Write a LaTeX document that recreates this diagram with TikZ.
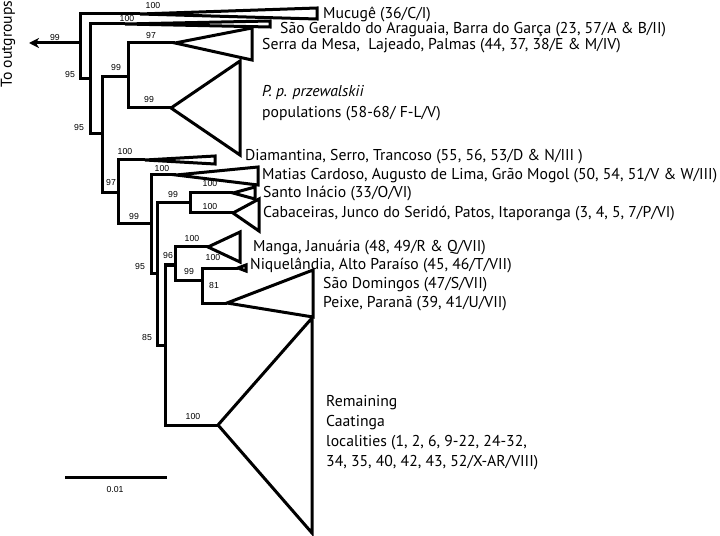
\documentclass[tikz,border=0pt]{standalone}
\usepackage{fontspec}
\setmainfont{PT Sans}
\newfontfamily\bsfont{Liberation Sans}
\usepackage{tikz}
\usetikzlibrary{arrows.meta}
\tikzset{>={Stealth[length=10bp,width=10bp,inset=3bp]}}
\tikzset{
  branch/.style={line width=3bp},
  taxon/.style={anchor=west, inner sep=0pt, font=\fontsize{15.7bp}{18bp}\selectfont},
  support/.style={inner sep=0pt, font=\bsfont\fontsize{8.7bp}{10bp}\selectfont},
}

\begin{document}
\begin{tikzpicture}[x=1bp,y=-1bp]
  \useasboundingbox (0,0) rectangle (720,536);

  % internal nodes
  \coordinate (n0) at (80,43);
  \coordinate (nA) at (90,79);
  \coordinate (nB) at (102,134);
  \coordinate (nC) at (128,77);
  \coordinate (nD) at (118,193);
  \coordinate (nE) at (151,224);
  \coordinate (nF) at (157,273);
  \coordinate (nG) at (190,203);
  \coordinate (nH) at (165,345);
  \coordinate (nI) at (175,265);
  \coordinate (nJ) at (202,280);
  \coordinate (out) at (29,43);

  % clade apices
  \coordinate (tMuc) at (140,14);
  \coordinate (tGer) at (125,24);
  \coordinate (tSer) at (175,43);
  \coordinate (tPrz) at (171,108);
  \coordinate (tDia) at (145,160);
  \coordinate (tMat) at (176,175);
  \coordinate (tSan) at (233,193);
  \coordinate (tCab) at (233,213);
  \coordinate (tMan) at (208,247);
  \coordinate (tNiq) at (238,268);
  \coordinate (tDom) at (227,303);
  \coordinate (tRem) at (218,425);

  % branches
  \draw[branch,->] (n0) -- (out);
  \draw[branch] (tMuc) -| (n0) |- (nA);
  \draw[branch] (tGer) -| (nA) |- (nB);
  \draw[branch] (nC) -| (nB) |- (nD);
  \draw[branch] (tSer) -| (nC) |- (tPrz);
  \draw[branch] (tDia) -| (nD) |- (nE);
  \draw[branch] (tMat) -| (nE) |- (nF);
  \draw[branch] (nG) -| (nF) |- (nH);
  \draw[branch] (tSan) -| (nG) |- (tCab);
  \draw[branch] (nI) -| (nH) |- (tRem);
  \draw[branch] (tMan) -| (nI) |- (nJ);
  \draw[branch] (tNiq) -| (nJ) |- (tDom);

  % collapsed clades
  \draw[branch] (tMuc) -- (317,8) -- (317,19) -- cycle;
  \draw[branch] (tGer) -- (270,21) -- (270,27) -- cycle;
  \draw[branch] (tSer) -- (252,28) -- (252,60) -- cycle;
  \draw[branch] (tPrz) -- (240,61) -- (240,155) -- cycle;
  \draw[branch] (tDia) -- (215,156) -- (215,164) -- cycle;
  \draw[branch] (tMat) -- (258,167) -- (258,185) -- cycle;
  \draw[branch] (tSan) -- (255,187) -- (255,199) -- cycle;
  \draw[branch] (tCab) -- (259,199) -- (259,231) -- cycle;
  \draw[branch] (tMan) -- (240,232) -- (240,262) -- cycle;
  \draw[branch] (tNiq) -- (246,265) -- (246,271) -- cycle;
  \draw[branch] (tDom) -- (313,270) -- (313,317) -- cycle;
  \draw[branch] (tRem) -- (312,318) -- (312,533) -- cycle;

  % support values
  \node[support] (s0) at (55,38) {99};
  \node[support] (sMuc) at (153,6) {100};
  \node[support] (sGer) at (127,19) {100};
  \node[support] (sA) at (70,75) {95};
  \node[support] (sB) at (79,128) {95};
  \node[support] (sC) at (116,68) {99};
  \node[support] (sSer) at (151,36) {97};
  \node[support] (sPrz) at (149,100) {99};
  \node[support] (sD) at (111,183) {97};
  \node[support] (sDia) at (125,152) {100};
  \node[support] (sE) at (134,217) {99};
  \node[support] (sMat) at (162,169) {100};
  \node[support] (sF) at (140,267) {95};
  \node[support] (sG) at (173,195) {99};
  \node[support] (sSan) at (210,184) {100};
  \node[support] (sCab) at (210,207) {100};
  \node[support] (sH) at (147,338) {85};
  \node[support] (sI) at (168,256) {96};
  \node[support] (sMan) at (192,239) {100};
  \node[support] (sJ) at (189,272) {99};
  \node[support] (sNiq) at (213,258) {100};
  \node[support] (sDom) at (214,286) {81};
  \node[support] (sRem) at (193,417) {100};

  % taxa
  \node[taxon] (lMuc) at (323,14) {Mucugê (36/C/I)};
  \node[taxon] (lGer) at (280,30) {São Geraldo do Araguaia, Barra do Garça (23, 57/A \& B/II)};
  \node[taxon] (lSer) at (262,46) {Serra da Mesa, \ Lajeado, Palmas (44, 37, 38/E \& M/IV)};
  \node[taxon] (lPrz) at (262,93) {\itshape P. p. przewalskii};
  \node[taxon] (lPrz2) at (262,114) {populations (58-68/ F-L/V)};
  \node[taxon] (lDia) at (245,157) {Diamantina, Serro, Trancoso (55, 56, 53/D \& N/III )};
  \node[taxon] (lMat) at (262,176) {Matias Cardoso, Augusto de Lima, Grão Mogol (50, 54, 51/V \& W/III)};
  \node[taxon] (lSan) at (263,194) {Santo Inácio (33/O/VI)};
  \node[taxon] (lCab) at (263,214) {Cabaceiras, Junco do Seridó, Patos, Itaporanga (3, 4, 5, 7/P/VI)};
  \node[taxon] (lMan) at (253,248) {Manga, Januária (48, 49/R \& Q/VII)};
  \node[taxon] (lNiq) at (250,265) {Niquelândia, Alto Paraíso (45, 46/T/VII)};
  \node[taxon] (lDom) at (323,285) {São Domingos (47/S/VII)};
  \node[taxon] (lPei) at (323,304) {Peixe, Paranã (39, 41/U/VII)};
  \node[taxon] (lRem1) at (326,403) {Remaining};
  \node[taxon] (lRem2) at (326,423) {Caatinga};
  \node[taxon] (lRem3) at (326,443) {localities (1, 2, 6, 9-22, 24-32,};
  \node[taxon] (lRem4) at (326,463) {34, 35, 40, 42, 43, 52/X-AR/VIII)};

  \node[taxon,anchor=center,rotate=90] (lOut) at (8,44) {To outgroups};

  % scale bar
  \coordinate (sb1) at (65,477);
  \coordinate (sb2) at (167,477);
  \draw[branch] (sb1) -- (sb2);
  \node[support] (lSb) at (115,490) {0.01};
\end{tikzpicture}
\end{document}
